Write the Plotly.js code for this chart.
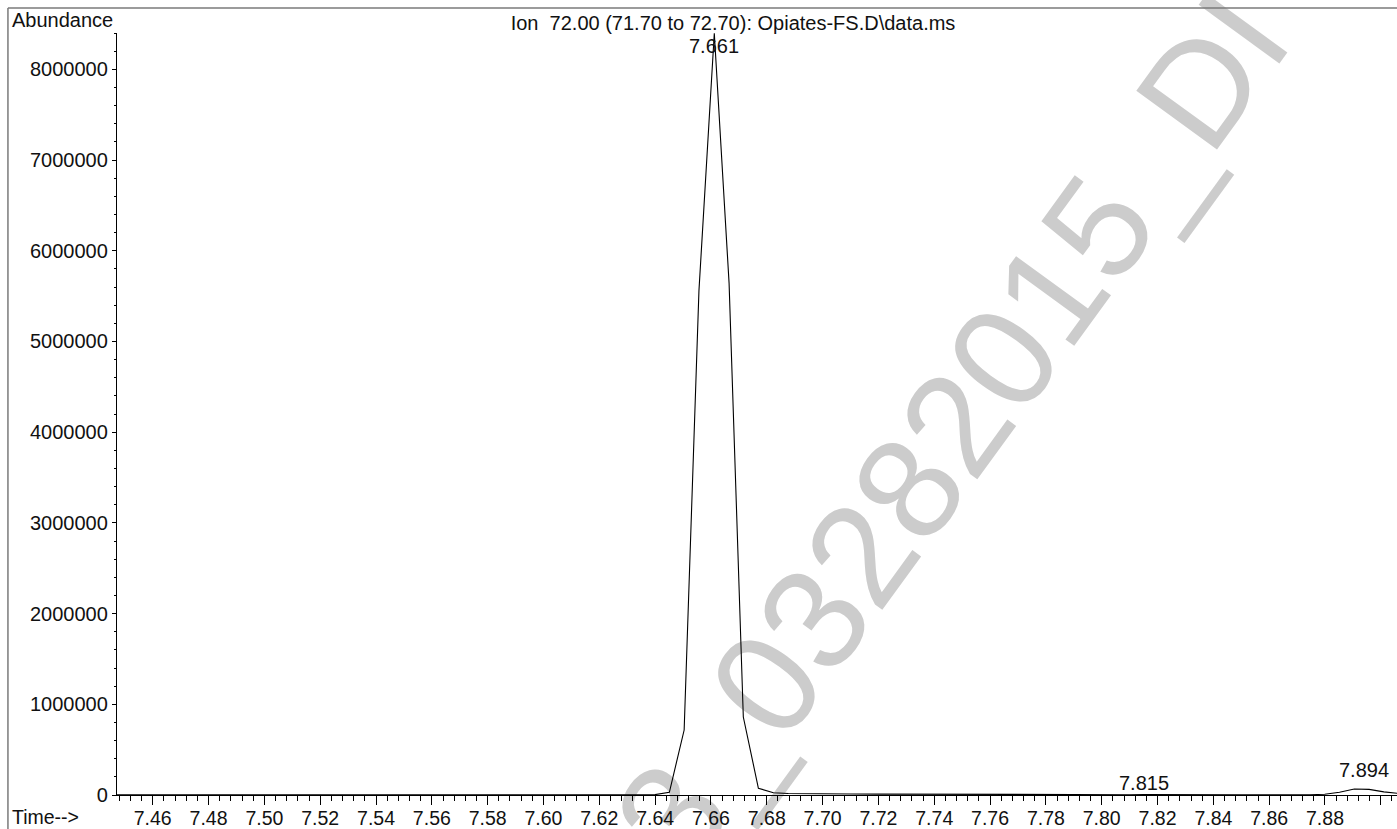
<!DOCTYPE html>
<html>
<head>
<meta charset="utf-8">
<script src="https://cdn.plot.ly/plotly-3.0.1.min.js"></script>
<style>
html,body{margin:0;padding:0;background:#fff;}
#chart{width:1397px;height:829px;}
</style>
</head>
<body>
<div id="chart"></div>
<script>
// ---- data ----
const timeMin = [7.4472, 7.5000, 7.5500, 7.6000, 7.6294, 7.6347, 7.6400, 7.6451, 7.6504, 7.6557,
                 7.6612, 7.6665, 7.6716, 7.6770, 7.6824, 7.6877, 7.6930, 7.7000, 7.7100, 7.7200,
                 7.7300, 7.7400, 7.7500, 7.7800, 7.8100, 7.8150, 7.8200, 7.8500, 7.8746, 7.8799,
                 7.8852, 7.8905, 7.8958, 7.9011, 7.9064];
const abundance = [1500, 1500, 1800, 2000, 2500, 3000, 4000, 30000, 716000, 5560000,
                   8397000, 5640000, 860000, 74000, 25000, 17000, 14000, 12000, 11000, 10000,
                   9000, 6000, 3000, 2500, 3500, 5000, 3500, 3000, 3500, 8000,
                   30000, 66000, 62000, 35000, 18000];
const peakTimes = [7.661, 7.815, 7.894];
const peakLabels = ["7.661", "7.815", "7.894"];
const xTickVals = [7.46, 7.48, 7.50, 7.52, 7.54, 7.56, 7.58, 7.60, 7.62, 7.64, 7.66, 7.68,
                   7.70, 7.72, 7.74, 7.76, 7.78, 7.80, 7.82, 7.84, 7.86, 7.88, 7.90];
const xTickText = ["7.46", "7.48", "7.50", "7.52", "7.54", "7.56", "7.58", "7.60", "7.62", "7.64",
                   "7.66", "7.68", "7.70", "7.72", "7.74", "7.76", "7.78", "7.80", "7.82", "7.84",
                   "7.86", "7.88", ""];
const titleText = "Ion \u00a072.00 (71.70 to 72.70): Opiates-FS.D\\data.ms";
const watermarkText = "3_03282015_DI";

const FONT = "Liberation Sans, Arial, Helvetica, sans-serif";
const TXT = "#111111";

const trace = {
  x: timeMin, y: abundance, type: "scatter", mode: "lines",
  line: {color: "#000000", width: 1.1}, hoverinfo: "x+y", showlegend: false
};

const peakLabelY = [0.9823, 0.0151, 0.0332];
const annotations = peakTimes.map((t, i) => ({
  x: t, xref: "x", y: peakLabelY[i], yref: "paper", text: peakLabels[i],
  showarrow: false, xanchor: "center", yanchor: "middle",
  font: {family: FONT, size: 20, color: TXT}
}));
annotations.push({
  x: -0.0836, xref: "paper", y: 1.0175, yref: "paper", text: "Abundance",
  showarrow: false, xanchor: "left", yanchor: "middle",
  font: {family: FONT, size: 20, color: TXT}
});
annotations.push({
  x: -0.0836, xref: "paper", y: -0.0285, yref: "paper", text: "Time-->",
  showarrow: false, xanchor: "left", yanchor: "middle",
  font: {family: FONT, size: 19.5, color: TXT}
});

const layout = {
  width: 1397, height: 829,
  margin: {l: 117, r: 0, t: 33, b: 34, pad: 0},
  paper_bgcolor: "#ffffff", plot_bgcolor: "rgba(0,0,0,0)",
  title: {text: titleText, x: 733 / 1397, xanchor: "center", xref: "container",
          y: 1 - 22.5 / 829, yanchor: "middle", yref: "container",
          font: {family: FONT, size: 20, color: TXT}},
  font: {family: FONT, size: 20, color: TXT},
  xaxis: {
    range: [7.4472, 7.9058], showgrid: false, zeroline: false,
    showline: true, linecolor: "#000", linewidth: 1.2,
    tickmode: "array", tickvals: xTickVals, ticktext: xTickText,
    ticks: "outside", ticklen: 9, tickwidth: 1, tickcolor: "#000",
    ticklabelstandoff: -4,
    tickfont: {family: FONT, size: 19.5, color: TXT},
    minor: {tickmode: "linear", tick0: 7.46, dtick: 0.004, ticks: "outside",
            ticklen: 5, tickwidth: 1, tickcolor: "#000", showgrid: false},
    fixedrange: true
  },
  yaxis: {
    range: [0, 8400000], showgrid: false, zeroline: false,
    showline: true, linecolor: "#000", linewidth: 1.2,
    tickmode: "linear", tick0: 0, dtick: 1000000, tickformat: "d",
    ticks: "outside", ticklen: 4, tickwidth: 1, tickcolor: "#000",
    tickfont: {family: FONT, size: 20, color: TXT},
    minor: {tickmode: "linear", tick0: 0, dtick: 200000, ticks: "outside",
            ticklen: 2, tickwidth: 1, tickcolor: "#000", showgrid: false},
    fixedrange: true
  },
  annotations: annotations,
  shapes: [
    {type: "line", xref: "paper", yref: "paper", x0: -0.0852, x1: 1.01, y0: 1.0328, y1: 1.0328,
     line: {color: "#7a7a7a", width: 1.5}},
    {type: "line", xref: "paper", yref: "paper", x0: -0.0852, x1: -0.0852, y0: 1.0328, y1: -0.06,
     line: {color: "#7a7a7a", width: 1.5}},
    {type: "rect", xref: "paper", yref: "paper", x0: 0.633, x1: 0.653, y0: 0.48, y1: 0.50,
     line: {width: 0, color: "rgba(0,0,0,0)"}, fillcolor: "rgba(0,0,0,0)", layer: "below",
     label: {text: watermarkText, textangle: -54, textposition: "middle center",
             font: {family: FONT, size: 145, color: "#cccccc"}}}
  ]
};

Plotly.newPlot("chart", [trace], layout, {displayModeBar: false, staticPlot: true});
</script>
</body>
</html>
